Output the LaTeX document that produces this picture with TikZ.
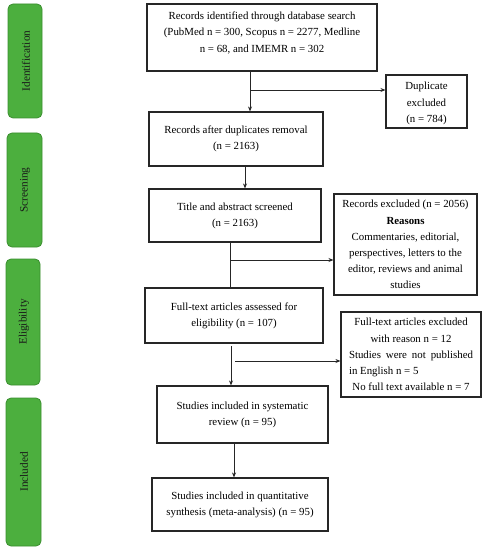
\documentclass[tikz,border=0pt]{standalone}
\usepackage{fontspec}
\setmainfont{Liberation Serif}
\usetikzlibrary{arrows.meta}
\definecolor{barfill}{HTML}{4CAF3E}
\definecolor{barline}{HTML}{3A8E2F}
\tikzset{
  txt/.style={align=center, inner sep=0pt, font=\fontsize{10.9}{16.2}\selectfont},
  box/.style={draw=black!85, line width=1.1bp, fill=white, align=center, inner sep=2bp,
    font=\fontsize{10.9}{16.2}\selectfont},
  bar/.style={draw=barline, fill=barfill, line width=0.8bp, rounded corners=5bp},
  barlabel/.style={rotate=90, font=\fontsize{11.3}{12}\selectfont, text=black!90},
  arr/.style={draw=black!85, line width=0.8bp, -{Stealth[length=5bp,width=4bp]}},
  ln/.style={draw=black!85, line width=0.8bp}
}
\begin{document}
\begin{tikzpicture}[x=1bp,y=-1bp]
\useasboundingbox (0,0) rectangle (485,550);
% phase bars
\draw[bar] (8,4) rectangle (42,118);
\node[barlabel] (lid) at (26,61) {Identification};
\draw[bar] (7,133) rectangle (42,247);
\node[barlabel] (lsc) at (25,190) {Screening};
\draw[bar] (6,259) rectangle (40,385);
\node[barlabel] (lel) at (24,322) {Eligibility};
\draw[bar] (6,398) rectangle (41,546);
\node[barlabel] (lin) at (24,472) {Included};
% boxes
\node[box, minimum width=230bp, minimum height=67bp] (b1) at (262,37.5) {};
\node[txt] (b1t) at (262,33)
  {Records identified through database search\\(PubMed n = 300, Scopus n = 2277, Medline\\n = 68, and IMEMR n = 302};
\node[box, minimum width=81bp, minimum height=53bp] (dup) at (426.5,101.5) {};
\node[txt] (dupt) at (426.5,103.5) {Duplicate\\excluded\\(n = 784)};
\node[box, minimum width=174bp, minimum height=54bp] (b2) at (236,139)
  {Records after duplicates removal\\(n = 2163)};
\node[box, minimum width=172bp, minimum height=53bp] (b3) at (235,215.5)
  {Title and abstract screened\\(n = 2163)};
\node[box, minimum width=143bp, minimum height=101bp] (ex1) at (405.5,244.5)
  {Records excluded (n = 2056)\\\textbf{Reasons}\\Commentaries, editorial,\\perspectives, letters to the\\editor, reviews and animal\\studies};
\node[box, minimum width=140bp, minimum height=85bp] (ex2) at (411,354.5)
  {Full-text articles excluded\\with reason n = 12\\
   \makebox[124bp][s]{Studies were not published}\\
   \makebox[124bp][l]{in English n = 5}\\
   No full text available n = 7};
\node[box, minimum width=178bp, minimum height=55bp] (b4) at (234,315.5)
  {Full-text articles assessed for\\eligibility (n = 107)};
\node[box, minimum width=171bp, minimum height=57bp] (b5) at (242.5,414.5)
  {Studies included in systematic\\review (n = 95)};
\node[box, minimum width=176bp, minimum height=53bp] (b6) at (240,504.5)
  {Studies included in quantitative\\synthesis (meta-analysis) (n = 95)};
% connectors
\coordinate (c1) at (250,90);
\draw[arr] (b1.south -| c1) -- (b2.north -| c1);
\draw[arr] (c1) -- (dup.west |- c1);
\coordinate (c2) at (245,160);
\draw[arr] (b2.south -| c2) -- (b3.north -| c2);
\coordinate (c3) at (230,260);
\draw[ln] (b3.south -| c3) -- (b4.north -| c3);
\draw[arr] (c3) -- (ex1.west |- c3);
\coordinate (c4) at (231,346);
\draw[arr] (c4) -- (b5.north -| c4);
\coordinate (c5) at (235,361);
\draw[arr] (c5) -- (ex2.west |- c5);
\coordinate (c6) at (234,460);
\draw[arr] (b5.south -| c6) -- (b6.north -| c6);
\end{tikzpicture}
\end{document}
